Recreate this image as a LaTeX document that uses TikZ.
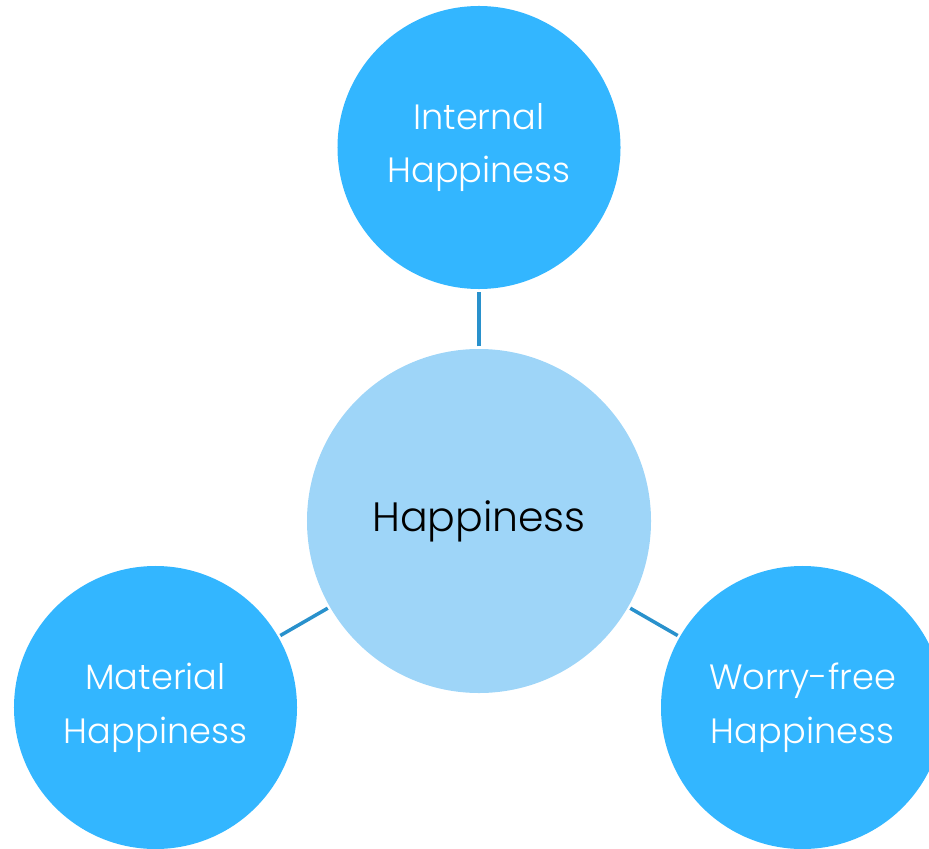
\documentclass[tikz,border=0pt]{standalone}
\usepackage{fontspec}
\setmainfont{Poppins}[UprightFont=* Light]
\definecolor{outerblue}{RGB}{51,182,255}
\definecolor{innerblue}{RGB}{158,213,248}
\definecolor{linkblue}{RGB}{41,145,204}
\tikzset{
  outer/.style={circle, fill=outerblue, inner sep=0pt, minimum size=8.49cm,
    text=white, align=center, font=\fontsize{30}{46}\selectfont},
  inner/.style={circle, fill=innerblue, inner sep=0pt, minimum size=10.32cm,
    text=black, font=\fontsize{35}{40}\selectfont},
  link/.style={draw=linkblue, line width=3pt, shorten <=2pt, shorten >=2pt}
}
\begin{document}
\begin{tikzpicture}[x=0.03cm,y=-0.03cm]
	\useasboundingbox (0,0) rectangle (929,849);
	\node[inner] (hap) at (479,521) {Happiness};
	\node[outer] (int) at (479,147.5) {Internal\\Happiness};
	\node[outer] (mat) at (155.5,707.5) {Material\\Happiness};
	\node[outer] (wor) at (802.5,707.5) {Worry-free\\Happiness};
	\draw[link] (hap) -- (int);
	\draw[link] (hap) -- (mat);
	\draw[link] (hap) -- (wor);
\end{tikzpicture}
\end{document}
